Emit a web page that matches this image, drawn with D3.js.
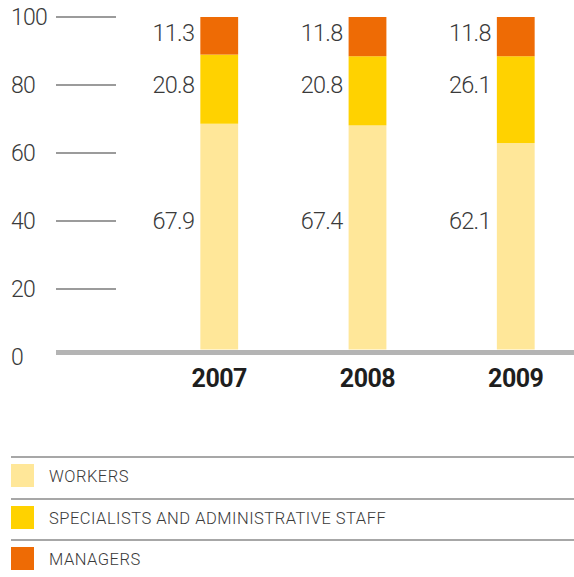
<!DOCTYPE html>
<html><head><meta charset="utf-8">
<script src="https://cdn.jsdelivr.net/npm/d3@7"></script>
<style>
html,body{margin:0;padding:0;background:#fff;}
svg{display:block;font-family:Roboto,"DejaVu Sans",sans-serif;}
</style></head>
<body>
<svg id="chart" width="574" height="577"></svg>
<script>
const years = ["2007","2008","2009"];
const seriesNames = ["WORKERS","SPECIALISTS AND ADMINISTRATIVE STAFF","MANAGERS"];
const workers = [67.9, 67.4, 62.1];
const specialists = [20.8, 20.8, 26.1];
const managers = [11.3, 11.8, 11.8];
const tickValues = [0,20,40,60,80,100];
const colors = ["#FFE799","#FFD200","#EE6B05"];
const labelLevels = [40, 80, 95.5]; // fixed label rows (workers, specialists, managers)

const svg = d3.select("#chart");
const series = [workers, specialists, managers];

const x = d3.scaleBand().domain(years).range([144, 591]).paddingInner(0.745).paddingOuter(0.38);
const yBar = d3.scaleLinear().domain([0,100]).range([349.5, 17]);
const yAxis = d3.scaleLinear().domain([0,100]).range([357, 17]);

// axis ticks
const ag = svg.append("g");
ag.selectAll("line.tick").data(tickValues.filter(d=>d>0)).join("line")
  .attr("x1",56).attr("x2",116)
  .attr("y1",d=>yAxis(d)).attr("y2",d=>yAxis(d))
  .attr("stroke","#7a7a7a").attr("stroke-width",1.5);
ag.selectAll("text").data(tickValues).join("text")
  .attr("x",11).attr("y",d=>yAxis(d)).attr("dy","0.35em")
  .attr("font-size",23).attr("font-weight",300).attr("fill","#3a3a3a")
  .attr("letter-spacing","-0.8")
  .text(d=>d);

// stacked bars
const stackData = years.map((y,i)=>({year:y, w:workers[i], s:specialists[i], m:managers[i]}));
const stacked = d3.stack().keys(["w","s","m"])(stackData);
svg.append("g").selectAll("g").data(stacked).join("g")
  .attr("fill",(d,i)=>colors[i])
  .selectAll("rect").data(d=>d).join("rect")
  .attr("x",d=>x(d.data.year)).attr("width",x.bandwidth())
  .attr("y",d=>yBar(d[1])).attr("height",d=>yBar(d[0])-yBar(d[1]));

// baseline
svg.append("rect").attr("x",56).attr("width",518).attr("y",350).attr("height",5).attr("fill","#b4b4b4");

// value labels
const lg = svg.append("g");
series.forEach((vals,si)=>{
  lg.selectAll(null).data(vals).join("text")
    .attr("x",(d,i)=>x(years[i])-6).attr("y",yAxis(labelLevels[si])).attr("dy","0.35em")
    .attr("text-anchor","end").attr("font-size",23.5).attr("font-weight",300).attr("fill","#3a3a3a")
    .attr("letter-spacing","-0.7")
    .text(d=>d.toFixed(1));
});

// year labels
svg.append("g").selectAll("text").data(years).join("text")
  .attr("x",d=>x(d)+x.bandwidth()/2).attr("y",387)
  .attr("text-anchor","middle").attr("font-size",25).attr("font-weight",700).attr("fill","#1e1e1e")
  .attr("letter-spacing","-0.5")
  .text(d=>d);

// legend
const legY = [457, 499, 540];
const leg = svg.append("g").selectAll("g").data(seriesNames).join("g")
  .attr("transform",(d,i)=>`translate(0,${legY[i]})`);
leg.append("line").attr("x1",11).attr("x2",574).attr("y1",0).attr("y2",0)
  .attr("stroke","#8a8a8a").attr("stroke-width",1.5);
leg.append("rect").attr("x",11).attr("y",7).attr("width",23).attr("height",23)
  .attr("fill",(d,i)=>colors[i]);
leg.append("text").attr("x",49).attr("y",19.5).attr("dy","0.35em")
  .attr("font-size",16.5).attr("font-weight",300).attr("fill","#3a3a3a")
  .attr("letter-spacing","0.5")
  .text(d=>d);
</script>
</body></html>
